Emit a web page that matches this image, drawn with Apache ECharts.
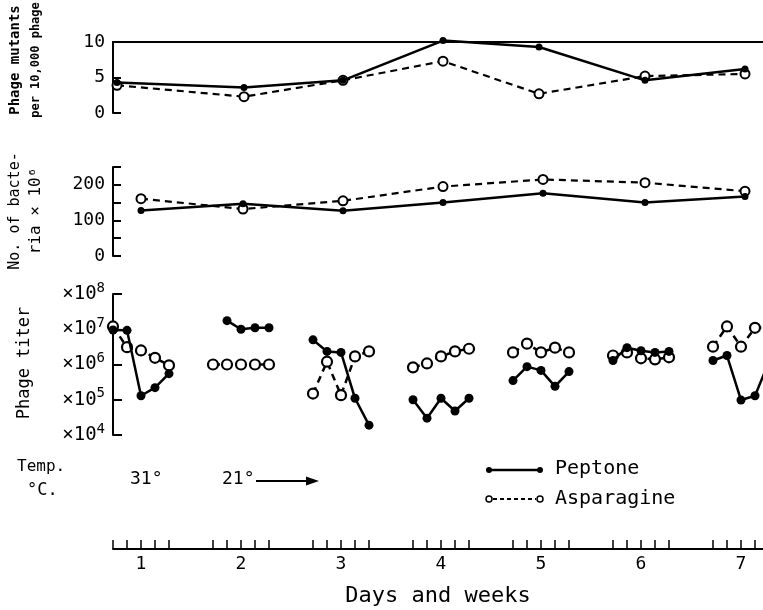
<!DOCTYPE html>
<html>
<head>
<meta charset="utf-8">
<script src="https://cdn.jsdelivr.net/npm/echarts@6/dist/echarts.min.js"></script>
<style>
html,body{margin:0;padding:0;background:#fff;}
#c{width:763px;height:610px;}
</style>
</head>
<body>
<div id="c"></div>
<script>
// ---- data ----
const days = [1, 2, 3, 4, 5, 6, 7];
const sampleOffsets = [-0.28, -0.14, 0, 0.14, 0.28];

// top panel: phage mutants per 10,000 phage
const mutX = [0.76, 2.03, 3.02, 4.02, 4.98, 6.04, 7.04];
const mutPeptone = [4.3, 3.6, 4.6, 10.2, 9.3, 4.6, 6.2];
const mutAsparagine = [3.9, 2.3, 4.6, 7.3, 2.7, 5.2, 5.5];

// middle panel: bacteria x 10^6
const bacX = [1.0, 2.02, 3.02, 4.02, 5.02, 6.04, 7.04];
const bacPeptone = [128, 147, 127, 150, 176, 150, 167];
const bacAsparagine = [161, 132, 155, 195, 215, 206, 182];

// bottom panel: phage titer per week (5 samples; null = no sample)
const titerPeptone = [
  [9.5e6, 9.3e6, 1.3e5, 2.2e5, 5.5e5],
  [null, 1.75e7, 1.0e7, 1.1e7, 1.1e7],
  [5.0e6, 2.35e6, 2.2e6, 1.1e5, 1.9e4],
  [1.0e5, 3.0e4, 1.1e5, 4.8e4, 1.1e5],
  [3.5e5, 8.7e5, 6.8e5, 2.4e5, 6.3e5],
  [1.3e6, 3.0e6, 2.45e6, 2.2e6, 2.35e6],
  [1.3e6, 1.8e6, 9.8e4, 1.3e5, 1.2e6]
];
const titerAsparagine = [
  [1.2e7, 3.1e6, 2.5e6, 1.55e6, 9.5e5],
  [1.0e6, 1.0e6, 1.0e6, 1.0e6, 1.0e6],
  [1.5e5, 1.2e6, 1.35e5, 1.7e6, 2.35e6],
  [8.3e5, 1.07e6, 1.7e6, 2.35e6, 2.8e6],
  [2.2e6, 3.9e6, 2.2e6, 3.0e6, 2.2e6],
  [1.8e6, 2.2e6, 1.5e6, 1.4e6, 1.6e6],
  [3.2e6, 1.2e7, 3.2e6, 1.1e7, 1.1e7]
];

const mutLabels = [0, 5, 10];
const bacLabels = [0, 100, 200];
const titerExps = [4, 5, 6, 7, 8];

// ---- chart ----
const FONT = 'DejaVu Sans Mono';
const XMIN = 0.72, XMAX = 7.22;
const chart = echarts.init(document.getElementById('c'), null, {renderer: 'canvas'});

const axisLineStyle = {color: '#000', width: 2};
function hiddenX(gi) {
  return {type: 'value', gridIndex: gi, min: XMIN, max: XMAX, show: false};
}
function f(px) { return px + 'px "' + FONT + '"'; }

const series = [];
const solid = {color: '#000', width: 2.5};
const dashed = {color: '#000', width: 2.2, type: [7, 5]};
// top
series.push({type: 'line', xAxisIndex: 0, yAxisIndex: 0, data: mutX.map((x, i) => [x, mutPeptone[i]]),
  symbol: 'circle', symbolSize: 7, itemStyle: {color: '#000'}, lineStyle: solid, clip: false, z: 3});
series.push({type: 'line', xAxisIndex: 0, yAxisIndex: 0, data: mutX.map((x, i) => [x, mutAsparagine[i]]),
  symbol: 'circle', symbolSize: 9, itemStyle: {color: '#fff', borderColor: '#000', borderWidth: 2},
  lineStyle: dashed, clip: false, z: 2});
// middle
series.push({type: 'line', xAxisIndex: 1, yAxisIndex: 1, data: bacX.map((x, i) => [x, bacPeptone[i]]),
  symbol: 'circle', symbolSize: 7, itemStyle: {color: '#000'}, lineStyle: solid, clip: false, z: 3});
series.push({type: 'line', xAxisIndex: 1, yAxisIndex: 1, data: bacX.map((x, i) => [x, bacAsparagine[i]]),
  symbol: 'circle', symbolSize: 9, itemStyle: {color: '#fff', borderColor: '#000', borderWidth: 2},
  lineStyle: dashed, clip: false, z: 2});
// bottom
function weekData(arr, w) {
  const out = [];
  arr[w].forEach((v, k) => { if (v != null) out.push([days[w] + sampleOffsets[k], v]); });
  return out;
}
for (let w = 0; w < 7; w++) {
  series.push({type: 'line', xAxisIndex: 2, yAxisIndex: 2, data: weekData(titerAsparagine, w),
    symbol: 'circle', symbolSize: 10, itemStyle: {color: '#fff', borderColor: '#000', borderWidth: 2.2},
    lineStyle: {color: '#000', width: 2.5, type: [7, 5]}, clip: false, z: 2});
  series.push({type: 'line', xAxisIndex: 2, yAxisIndex: 2, data: weekData(titerPeptone, w),
    symbol: 'circle', symbolSize: 9, itemStyle: {color: '#000'},
    lineStyle: {color: '#000', width: 2.5}, clip: false, z: 3});
}

const tickCustom = [];
days.forEach(d => sampleOffsets.forEach(o => { const v = +(d + o).toFixed(3); if (v >= XMIN && v <= XMAX) tickCustom.push(v); }));

const option = {
  animation: false,
  backgroundColor: '#fff',
  textStyle: {fontFamily: FONT, color: '#000'},
  grid: [
    {left: 113, right: 0, top: 42, height: 71},
    {left: 113, right: 0, top: 167, height: 89},
    {left: 113, right: 0, top: 294, height: 141},
    {left: 113, right: 0, top: 548, height: 1}
  ],
  xAxis: [
    {type: 'value', gridIndex: 0, min: XMIN, max: XMAX, position: 'top',
      axisLine: {show: true, onZero: false, lineStyle: axisLineStyle}, axisTick: {show: false}, axisLabel: {show: false}, splitLine: {show: false}},
    hiddenX(1), hiddenX(2),
    {type: 'value', gridIndex: 3, min: XMIN, max: XMAX, position: 'bottom',
      axisLine: {show: true, onZero: false, lineStyle: {color: '#000', width: 2}},
      axisTick: {show: true, inside: true, length: 9, customValues: tickCustom, lineStyle: {color: '#000', width: 1.5}},
      axisLabel: {show: true, customValues: days, margin: 6, fontSize: 18, fontFamily: FONT, color: '#000', formatter: v => String(Math.round(v))},
      splitLine: {show: false},
      name: 'Days and weeks', nameLocation: 'middle', nameGap: 36,
      nameTextStyle: {fontSize: 22, fontFamily: FONT, color: '#000'}}
  ],
  yAxis: [
    {type: 'value', gridIndex: 0, min: 0, max: 10, interval: 5,
      axisLine: {show: true, lineStyle: axisLineStyle},
      axisTick: {show: true, inside: true, length: 8, lineStyle: {color: '#000', width: 2}},
      axisLabel: {fontSize: 18, margin: 8, color: '#000', fontFamily: FONT,
        formatter: v => mutLabels.includes(v) ? String(v) : ''},
      splitLine: {show: false}},
    {type: 'value', gridIndex: 1, min: 0, max: 250, interval: 50,
      axisLine: {show: true, lineStyle: axisLineStyle},
      axisTick: {show: true, inside: true, length: 8, lineStyle: {color: '#000', width: 2}},
      axisLabel: {fontSize: 18, margin: 8, color: '#000', fontFamily: FONT,
        formatter: v => bacLabels.includes(v) ? String(v) : ''},
      splitLine: {show: false}},
    {type: 'log', gridIndex: 2, logBase: 10, min: 1e4, max: 1e8,
      axisLine: {show: true, lineStyle: axisLineStyle},
      axisTick: {show: true, inside: true, length: 9, lineStyle: {color: '#000', width: 2}},
      axisLabel: {margin: 8, color: '#000', fontFamily: FONT,
        formatter: v => { const e = Math.round(Math.log10(v)); return titerExps.includes(e) ? '{a|×10}{b|' + e + '}' : ''; },
        rich: {a: {fontSize: 19, fontFamily: FONT}, b: {fontSize: 14, fontFamily: FONT, verticalAlign: 'bottom', padding: [0, 0, 12, 0]}}},
      splitLine: {show: false}},
    {type: 'value', gridIndex: 3, show: false}
  ],
  series: series,
  graphic: [
    {type: 'text', x: 15, y: 60, rotation: Math.PI / 2, style: {text: 'Phage mutants', font: 'bold ' + f(14), fill: '#000', align: 'center', verticalAlign: 'middle'}},
    {type: 'text', x: 36, y: 60, rotation: Math.PI / 2, style: {text: 'per 10,000 phage', font: 'bold ' + f(12), fill: '#000', align: 'center', verticalAlign: 'middle'}},
    {type: 'text', x: 15, y: 211, rotation: Math.PI / 2, style: {text: 'No. of bacte-', font: f(15), fill: '#000', align: 'center', verticalAlign: 'middle'}},
    {type: 'text', x: 36, y: 211, rotation: Math.PI / 2, style: {text: 'ria × 10⁶', font: f(16), fill: '#000', align: 'center', verticalAlign: 'middle'}},
    {type: 'text', x: 25, y: 363, rotation: Math.PI / 2, style: {text: 'Phage titer', font: f(17), fill: '#000', align: 'center', verticalAlign: 'middle'}},
    {type: 'text', x: 17, y: 467, style: {text: 'Temp.', font: f(16), fill: '#000', align: 'left', verticalAlign: 'middle'}},
    {type: 'text', x: 27, y: 491, style: {text: '°C.', font: f(17), fill: '#000', align: 'left', verticalAlign: 'middle'}},
    {type: 'text', x: 130, y: 479, style: {text: '31°', font: f(18), fill: '#000', align: 'left', verticalAlign: 'middle'}},
    {type: 'text', x: 222, y: 479, style: {text: '21°', font: f(18), fill: '#000', align: 'left', verticalAlign: 'middle'}},
    {type: 'line', shape: {x1: 256, y1: 481, x2: 312, y2: 481}, style: {stroke: '#000', lineWidth: 2}},
    {type: 'polygon', shape: {points: [[319, 481], [306, 476.5], [306, 485.5]]}, style: {fill: '#000'}},
    // legend
    {type: 'line', shape: {x1: 489, y1: 470, x2: 540, y2: 470}, style: {stroke: '#000', lineWidth: 2.5}},
    {type: 'circle', shape: {cx: 489, cy: 470, r: 3}, style: {fill: '#000'}},
    {type: 'circle', shape: {cx: 540, cy: 470, r: 3}, style: {fill: '#000'}},
    {type: 'text', x: 555, y: 469, style: {text: 'Peptone', font: f(20), fill: '#000', align: 'left', verticalAlign: 'middle'}},
    {type: 'line', shape: {x1: 493, y1: 499, x2: 536, y2: 499}, style: {stroke: '#000', lineWidth: 1.8, lineDash: [4, 3]}},
    {type: 'circle', shape: {cx: 489, cy: 499, r: 3}, style: {fill: '#fff', stroke: '#000', lineWidth: 1.5}},
    {type: 'circle', shape: {cx: 540, cy: 499, r: 3}, style: {fill: '#fff', stroke: '#000', lineWidth: 1.5}},
    {type: 'text', x: 555, y: 499, style: {text: 'Asparagine', font: f(20), fill: '#000', align: 'left', verticalAlign: 'middle'}}
  ]
};
chart.setOption(option);
</script>
</body>
</html>
